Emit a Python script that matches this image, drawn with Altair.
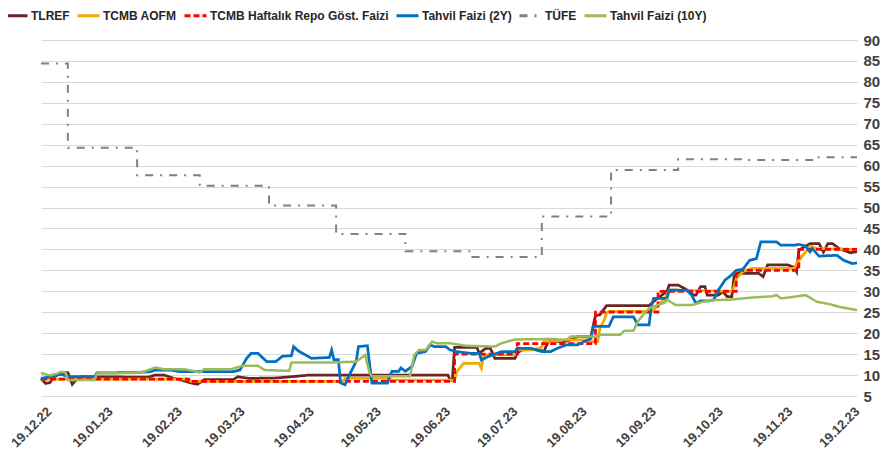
import altair as alt
import pandas as pd

# ---------------- data ----------------
series_names = ["TLREF", "TCMB AOFM", "TCMB Haftalık Repo Göst. Faizi",
                "Tahvil Faizi (2Y)", "TÜFE", "Tahvil Faizi (10Y)"]

tlref_dates = ["2022-12-19","2022-12-21","2022-12-23","2022-12-25","2022-12-28","2022-12-31","2023-01-02","2023-01-04",
               "2023-01-06","2023-02-05","2023-02-08","2023-02-12","2023-02-16","2023-02-21","2023-02-25","2023-02-27",
               "2023-03-02","2023-03-15","2023-03-17","2023-03-22","2023-04-03","2023-04-10","2023-04-18","2023-06-19",
               "2023-06-20","2023-06-21","2023-06-22","2023-07-02","2023-07-03","2023-07-06","2023-07-08","2023-07-09",
               "2023-07-10","2023-07-19","2023-07-20","2023-07-22","2023-07-29","2023-08-01","2023-08-02","2023-08-03",
               "2023-08-10","2023-08-13","2023-08-16","2023-08-22","2023-08-24","2023-08-26","2023-08-29","2023-09-17",
               "2023-09-20","2023-09-25","2023-09-26","2023-09-30","2023-10-04","2023-10-07","2023-10-08","2023-10-10",
               "2023-10-12","2023-10-13","2023-10-18","2023-10-20","2023-10-22","2023-10-24","2023-10-25","2023-10-26",
               "2023-11-05","2023-11-07","2023-11-09","2023-11-18","2023-11-21","2023-11-22","2023-11-23","2023-11-28",
               "2023-12-02","2023-12-04","2023-12-06","2023-12-08","2023-12-11","2023-12-16","2023-12-19"]
tlref_vals = [9.2,8.0,8.2,9.6,10.6,10.6,7.8,9.0,
              9.6,9.5,10.0,10.0,9.3,8.6,8.0,7.8,
              8.9,8.9,9.6,9.2,9.3,9.6,10.0,10.0,
              8.8,8.8,16.6,16.6,15.2,16.4,16.4,15.2,
              14.0,14.0,15.2,16.0,16.2,15.6,17.0,18.0,
              18.0,18.4,19.2,19.2,24.2,24.4,26.6,26.6,
              28.0,30.0,31.5,31.5,30.3,29.1,29.1,31.1,
              31.1,29.1,29.1,29.9,28.7,28.7,33.5,34.3,
              34.3,33.5,36.3,36.3,35.7,34.7,39.8,41.4,
              41.4,39.4,41.4,41.4,40.2,39.2,39.5]

aofm_dates = ["2022-12-19","2023-02-23","2023-02-24","2023-05-03","2023-05-04","2023-05-24","2023-05-25","2023-06-22",
              "2023-06-23","2023-06-26","2023-07-03","2023-07-04","2023-07-05","2023-07-19","2023-07-20","2023-07-29",
              "2023-07-31","2023-08-01","2023-08-06","2023-08-10","2023-08-20","2023-08-21","2023-08-25","2023-08-26",
              "2023-08-28","2023-08-29","2023-08-30","2023-09-19","2023-09-20","2023-09-24","2023-09-26","2023-10-24",
              "2023-10-25","2023-10-26","2023-10-29","2023-11-02","2023-11-21","2023-11-22","2023-11-25","2023-11-28",
              "2023-12-01","2023-12-19"]
aofm_vals = [9.0,9.0,8.5,8.5,9.2,9.2,8.8,8.8,
             10.8,12.8,12.8,11.6,14.8,14.8,16.0,16.0,
             16.8,18.0,18.0,18.4,18.4,18.0,18.0,21.2,
             23.2,24.8,25.2,25.2,26.2,28.2,30.3,30.0,
             31.1,33.0,34.7,35.5,35.5,36.7,38.7,40.8,
             40.2,40.0]

repo_dates = ["2022-12-19","2023-02-23","2023-06-22","2023-07-20","2023-08-24","2023-09-21","2023-10-26","2023-11-23","2023-12-19"]
repo_vals = [9.0,8.5,15.0,17.5,25.0,30.0,35.0,40.0,40.0]

y2_dates = ["2022-12-19","2022-12-23","2022-12-28","2022-12-31","2023-01-12","2023-01-13","2023-01-31","2023-02-06",
            "2023-02-08","2023-02-15","2023-02-19","2023-03-15","2023-03-18","2023-03-21","2023-03-23","2023-03-26",
            "2023-03-30","2023-04-03","2023-04-06","2023-04-10","2023-04-11","2023-04-13","2023-04-17","2023-04-19",
            "2023-04-27","2023-04-28","2023-04-29","2023-05-01","2023-05-02","2023-05-04","2023-05-06","2023-05-09",
            "2023-05-10","2023-05-14","2023-05-16","2023-05-23","2023-05-24","2023-05-25","2023-05-28","2023-05-29",
            "2023-05-31","2023-06-03","2023-06-05","2023-06-09","2023-06-11","2023-06-13","2023-06-18","2023-06-20",
            "2023-06-23","2023-06-29","2023-07-03","2023-07-04","2023-07-07","2023-07-13","2023-07-19","2023-07-20",
            "2023-07-26","2023-07-31","2023-08-04","2023-08-07","2023-08-11","2023-08-16","2023-08-19","2023-08-22",
            "2023-08-23","2023-08-30","2023-09-01","2023-09-10","2023-09-12","2023-09-17","2023-09-18","2023-09-19",
            "2023-09-25","2023-09-26","2023-10-04","2023-10-06","2023-10-08","2023-10-10","2023-10-14","2023-10-16",
            "2023-10-18","2023-10-21","2023-10-23","2023-10-26","2023-10-29","2023-11-01","2023-11-04","2023-11-06",
            "2023-11-13","2023-11-15","2023-11-21","2023-11-23","2023-11-26","2023-11-28","2023-11-29","2023-12-02",
            "2023-12-10","2023-12-13","2023-12-17","2023-12-19"]
y2_vals = [9.2,9.6,10.2,9.6,9.6,10.5,10.6,10.8,
           11.2,11.2,10.8,10.8,11.2,14.0,15.2,15.2,
           13.2,13.2,14.5,14.6,16.8,15.8,14.6,14.0,
           14.2,16.0,13.7,13.7,8.1,7.7,10.1,13.3,
           16.8,17.0,8.1,8.1,9.7,10.9,10.9,11.7,
           10.9,12.1,15.2,15.6,17.2,16.8,16.8,16.0,
           15.6,15.2,15.2,13.6,14.4,15.6,15.6,16.4,
           16.4,15.6,15.6,16.4,17.2,17.2,18.0,18.7,
           21.6,21.6,23.9,23.9,22.0,22.0,26.3,28.3,
           28.3,30.3,30.2,29.1,27.1,27.7,27.7,28.0,
           30.3,32.7,33.5,35.0,35.3,37.4,37.8,41.8,
           41.8,41.0,41.0,41.2,40.8,39.4,40.2,38.4,
           38.6,37.4,36.6,36.8]

tufe_dates = ["2022-12-19","2022-12-31","2023-01-31","2023-02-28","2023-03-31","2023-04-30","2023-05-31",
              "2023-06-30","2023-07-31","2023-08-31","2023-09-30","2023-10-31","2023-11-30","2023-12-19"]
tufe_vals = [84.39,64.27,57.68,55.18,50.51,43.68,39.59,38.21,47.83,58.94,61.53,61.36,61.98,61.98]

y10_dates = ["2022-12-19","2022-12-23","2022-12-26","2022-12-28","2022-12-30","2022-12-31","2023-01-12","2023-01-13",
             "2023-01-30","2023-02-03","2023-02-08","2023-02-12","2023-02-21","2023-02-25","2023-02-28","2023-03-02",
             "2023-03-14","2023-03-19","2023-03-26","2023-03-29","2023-04-09","2023-04-10","2023-04-28","2023-05-09",
             "2023-05-12","2023-05-13","2023-05-15","2023-05-16","2023-06-02","2023-06-03","2023-06-04","2023-06-06",
             "2023-06-09","2023-06-12","2023-06-14","2023-06-20","2023-06-27","2023-07-10","2023-07-13","2023-07-19",
             "2023-08-04","2023-08-11","2023-08-13","2023-08-25","2023-08-26","2023-09-04","2023-09-06","2023-09-10",
             "2023-09-12","2023-09-15","2023-09-17","2023-09-24","2023-09-25","2023-09-29","2023-10-06","2023-10-11",
             "2023-10-16","2023-10-23","2023-11-02","2023-11-11","2023-11-13","2023-11-15","2023-11-21","2023-11-26",
             "2023-12-01","2023-12-07","2023-12-11","2023-12-19"]
y10_vals = [10.5,9.9,10.3,10.8,10.6,8.8,8.8,10.4,
            10.5,10.8,11.8,11.4,11.4,11.0,10.6,11.4,
            11.4,12.2,12.2,11.2,11.0,13.0,13.0,13.2,
            14.4,14.8,10.5,9.7,9.7,12.1,14.8,16.0,
            16.0,18.0,17.6,17.6,17.0,16.8,17.6,18.5,
            18.6,18.4,19.2,19.2,19.6,19.6,20.6,20.6,
            22.8,24.8,26.0,27.3,28.0,26.7,26.7,27.5,
            27.9,28.0,28.5,28.8,29.1,28.3,28.7,29.1,
            27.5,26.9,26.3,25.5]

tick_dates = ["2022-12-19","2023-01-19","2023-02-19","2023-03-19","2023-04-19","2023-05-19","2023-06-19",
              "2023-07-19","2023-08-19","2023-09-19","2023-10-19","2023-11-19","2023-12-19"]
y_ticks = list(range(5, 91, 5))

# ---------------- styles ----------------
colors = ["#6B2424", "#F2A900", "#FF0000", "#0070C0", "#808080", "#9BBB59"]
dashes = [[1, 0], [1, 0], [6, 3], [1, 0], [8, 7, 2, 7], [1, 0]]
interps = ["linear", "linear", "step-after", "linear", "step-after", "linear"]
widths = [2.75, 2.75, 2.75, 2.75, 2, 2.5]

all_dates = [tlref_dates, aofm_dates, repo_dates, y2_dates, tufe_dates, y10_dates]
all_vals = [tlref_vals, aofm_vals, repo_vals, y2_vals, tufe_vals, y10_vals]

rows = []
for name, ds, vs in zip(series_names, all_dates, all_vals):
    for d, v in zip(ds, vs, strict=True):
        rows.append({"series": name, "date": pd.Timestamp(d), "value": v})
df = pd.DataFrame(rows)


def dt(s):
    t = pd.Timestamp(s)
    return alt.DateTime(year=t.year, month=t.month, date=t.day)


FONT = "Liberation Sans"

legend = alt.Legend(
    title=None, orient="none", legendX=-37, legendY=-37, direction="horizontal",
    symbolType="stroke", symbolSize=484, symbolStrokeWidth=3, labelFont=FONT,
    labelFontSize=12, labelFontWeight="bold", labelColor="#262626", labelLimit=400,
    columnPadding=1, labelOffset=2, padding=0,
)

first_tick_test = "datum.value < time(datetime(2022, 11, 25))"

base = alt.Chart(df).encode(
    x=alt.X("date:T", title=None,
            scale=alt.Scale(domain=[dt(tick_dates[0]), dt(tick_dates[-1])], nice=False),
            axis=alt.Axis(values=[dt(d) for d in tick_dates], format="%d.%m.%y", labelAngle=-45,
                          labelAlign="right", labelBaseline="middle", grid=False, domain=False,
                          ticks=False, labelFont=FONT, labelFontSize=13, labelFontWeight="bold",
                          labelColor="#404040", labelPadding=13, labelOverlap=False,
                          labelBound=False, labelFlush=False,
                          labelOffset={"condition": {"test": first_tick_test, "value": 8}, "value": 0})),
    y=alt.Y("value:Q", title=None,
            scale=alt.Scale(domain=[5, 90], nice=False, zero=False),
            axis=alt.Axis(orient="right", values=y_ticks, grid=True, gridColor="#D9D9D9",
                          gridWidth=1, domain=False, ticks=False, labelFont=FONT, labelFontSize=15,
                          labelFontWeight="bold", labelColor="#404040", labelPadding=6)),
    color=alt.Color("series:N", scale=alt.Scale(domain=series_names, range=colors), legend=legend),
    strokeDash=alt.StrokeDash("series:N", scale=alt.Scale(domain=series_names, range=dashes), legend=legend),
)

layers = []
for name, ip, w in zip(series_names, interps, widths):
    layers.append(
        base.transform_filter(alt.datum.series == name).mark_line(interpolate=ip, strokeWidth=w)
    )

chart = alt.layer(*layers).properties(
    width=816, height=356,
    autosize=alt.AutoSizeParams(type="none"),
    padding={"left": 33, "top": 32, "right": 28, "bottom": 60},
).configure_view(stroke=None)

chart.save("out.html", embed_options={"renderer": "svg", "actions": False})
